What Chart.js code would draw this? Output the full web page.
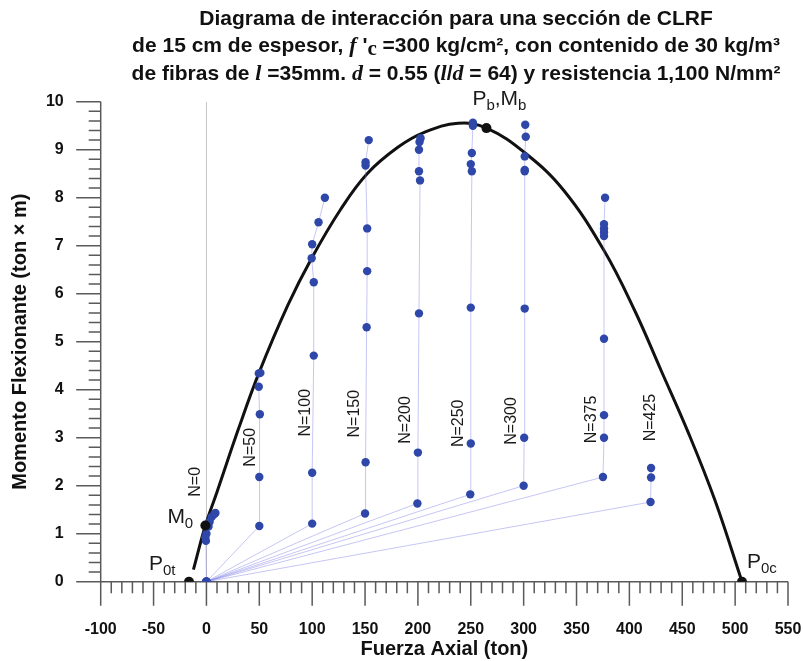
<!DOCTYPE html>
<html>
<head>
<meta charset="utf-8">
<script src="https://cdn.jsdelivr.net/npm/chart.js@4.4.1/dist/chart.umd.min.js"></script>
<style>
  html, body { margin: 0; padding: 0; background: #ffffff; }
  #wrap { width: 803px; height: 661px; }
</style>
</head>
<body>
<div id="wrap"><canvas id="c" width="803" height="661"></canvas></div>
<script>
// Interaction curve (axial force P in ton, bending moment M in ton·m)
const curveP = [-12.3, -1, 10, 30.4, 49.5, 77, 100, 127, 152, 181, 206, 238, 265, 302, 338, 376, 405, 430, 456, 481, 506.5];
const curveM = [0.25, 1.17, 1.87, 3.19, 4.34, 5.76, 6.76, 7.76, 8.50, 9.05, 9.36, 9.55, 9.45, 8.92, 8.15, 6.90, 5.65, 4.40, 3.09, 1.69, 0];

// Characteristic points of the curve
const keyNames = ['P0t', 'M0', 'Pb,Mb', 'P0c'];
const keyP = [-16.5, -1, 264.8, 506.5];
const keyM = [0, 1.17, 9.45, 0];

// Load paths for each axial level N (each starts at the origin)
const levelNames = ['N=0', 'N=50', 'N=100', 'N=150', 'N=200', 'N=250', 'N=300', 'N=375', 'N=425'];
const pN0   = [0, -0.5, -1, 0, 2, 3, 5, 7.5, 8.5];
const mN0   = [0, 0.85, 0.92, 1.0, 1.15, 1.25, 1.35, 1.41, 1.43];
const pN50  = [0, 50, 50, 50.5, 49.5, 49.5, 51];
const mN50  = [0, 1.16, 2.18, 3.49, 4.06, 4.34, 4.35];
const pN100 = [0, 100, 100, 101.5, 101.5, 99.5, 100, 106, 112];
const mN100 = [0, 1.21, 2.27, 4.71, 6.24, 6.74, 7.03, 7.49, 8.0];
const pN150 = [0, 150, 150.5, 151.5, 152, 152, 150.5, 150.5, 153.5];
const mN150 = [0, 1.42, 2.49, 5.30, 6.47, 7.36, 8.67, 8.74, 9.2];
const pN200 = [0, 199.5, 200, 201, 202, 201, 201, 201.5, 202.5];
const mN200 = [0, 1.63, 2.69, 5.59, 8.36, 8.55, 9.0, 9.16, 9.24];
const pN250 = [0, 249.5, 250, 250, 251, 250, 251, 252, 252];
const mN250 = [0, 1.82, 2.88, 5.71, 8.55, 8.70, 8.93, 9.5, 9.56];
const pN300 = [0, 300, 300.5, 301, 301, 301, 301, 302, 301.5];
const mN300 = [0, 2.0, 3.0, 5.69, 8.55, 8.58, 8.86, 9.27, 9.52];
const pN375 = [0, 375, 376, 376, 376, 376, 376, 376, 376, 377];
const mN375 = [0, 2.18, 3.0, 3.47, 5.06, 7.2, 7.28, 7.36, 7.45, 8.0];
const pN425 = [0, 420, 420.5, 420.5];
const mN425 = [0, 1.66, 2.17, 2.37];

// Axis ticks
const xTicks = [-100, -50, 0, 50, 100, 150, 200, 250, 300, 350, 400, 450, 500, 550];
const yTicks = [0, 1, 2, 3, 4, 5, 6, 7, 8, 9, 10];

const levelP = [pN0, pN50, pN100, pN150, pN200, pN250, pN300, pN375, pN425];
const levelM = [mN0, mN50, mN100, mN150, mN200, mN250, mN300, mN375, mN425];

const pts = (xs, ys) => xs.map((v, i) => ({ x: v, y: ys[i] }));

// Where the N labels sit (data coordinates of the text centre)
const levelLabelAt = [
  [-10.5, 2.08], [41.5, 2.8], [93.5, 3.52], [140.5, 3.50], [188.5, 3.37],
  [238, 3.30], [288.5, 3.35], [364.5, 3.38], [420.5, 3.42]
];
// Text offsets (px) of the characteristic point labels from their points
const keyLabelLayout = {
  'P0t':   { dx: -40, dy: -12, parts: [['P', 0], ['0t', 1]] },
  'M0':    { dx: -38, dy: -3,  parts: [['M', 0], ['0', 1]] },
  'Pb,Mb': { dx: -14, dy: -23, parts: [['P', 0], ['b', 1], [',', 0], ['M', 0], ['b', 1]] },
  'P0c':   { dx: 5,   dy: -14, parts: [['P', 0], ['0c', 1]] }
};

const SANS = '"Liberation Sans", Arial, Helvetica, sans-serif';
const SERIF = '"Liberation Serif", "Times New Roman", serif';

// Title with italic symbols
const titleLines = [
  [['Diagrama de interacción para una sección de CLRF', 'b']],
  [['de 15 cm de espesor, ', 'b'], ['f', 'i'], [' \'', 'b'], ['c', 's'], [' =300 kg/cm², con contenido de 30 kg/m³', 'b']],
  [['de fibras de ', 'b'], ['l', 'i'], [' =35mm. ', 'b'], ['d', 'i'], [' = 0.55 (', 'b'], ['l', 'i'], ['/', 'b'], ['d', 'i'], [' = 64) y resistencia 1,100 N/mm²', 'b']]
];

const datasets = [];
// black key points (on top)
datasets.push({
  label: 'key', data: pts(keyP, keyM), showLine: false,
  pointRadius: 5, pointBackgroundColor: '#111', pointBorderColor: '#111', pointBorderWidth: 0,
  order: 0
});
// N paths
levelP.forEach((xs, i) => {
  datasets.push({
    label: levelNames[i], data: pts(xs, levelM[i]), showLine: true,
    borderColor: 'rgba(125,125,230,0.55)', borderWidth: 0.8,
    pointRadius: 4.2, pointBackgroundColor: '#2e47a9', pointBorderWidth: 0,
    tension: 0, order: 1
  });
});
// interaction curve
datasets.push({
  label: 'curve', data: pts(curveP, curveM), showLine: true,
  borderColor: '#111', borderWidth: 3, pointRadius: 0,
  tension: 0.4, order: 2
});
// vertical reference at P = 0
datasets.push({
  label: 'zero', data: pts([0, 0], [0, 10]), showLine: true,
  borderColor: '#c4c4c4', borderWidth: 1, pointRadius: 0, order: 3
});

const axesPlugin = {
  id: 'axesTicks',
  beforeDatasetsDraw(chart) {
    const { ctx, chartArea: a, scales: { x, y } } = chart;
    ctx.save();
    ctx.strokeStyle = '#5a5a5a';
    ctx.lineWidth = 1.5;
    ctx.beginPath();
    ctx.moveTo(a.left, y.getPixelForValue(10)); ctx.lineTo(a.left, a.bottom);
    ctx.moveTo(a.left, a.bottom); ctx.lineTo(x.getPixelForValue(550), a.bottom);
    for (let v = -100; v <= 550; v += 10) {
      const px = x.getPixelForValue(v);
      const len = (v % 50 === 0) ? 24 : 11.5;
      ctx.moveTo(px, a.bottom); ctx.lineTo(px, a.bottom + len);
    }
    for (let i = 0; i <= 50; i++) {
      const py = y.getPixelForValue(i * 0.2);
      const len = (i % 5 === 0) ? 24.5 : 12;
      ctx.moveTo(a.left - len, py); ctx.lineTo(a.left, py);
    }
    ctx.stroke();
    ctx.restore();
  }
};

const textPlugin = {
  id: 'texts',
  afterDatasetsDraw(chart) {
    const { ctx, scales: { x, y } } = chart;
    ctx.save();
    // N labels
    ctx.fillStyle = '#1a1a1a';
    ctx.font = '16px ' + SANS;
    ctx.textAlign = 'center';
    ctx.textBaseline = 'middle';
    levelNames.forEach((t, i) => {
      ctx.save();
      ctx.translate(x.getPixelForValue(levelLabelAt[i][0]), y.getPixelForValue(levelLabelAt[i][1]));
      ctx.rotate(-Math.PI / 2);
      ctx.fillText(t, 0, 0);
      ctx.restore();
    });
    // characteristic point labels
    ctx.textAlign = 'left';
    ctx.textBaseline = 'alphabetic';
    keyNames.forEach((k, i) => {
      const L = keyLabelLayout[k];
      let cx = x.getPixelForValue(keyP[i]) + L.dx;
      const by = y.getPixelForValue(keyM[i]) + L.dy;
      L.parts.forEach(([t, sub]) => {
        ctx.font = (sub ? '15px ' : '21px ') + SANS;
        ctx.fillText(t, cx, by + (sub ? 5 : 0));
        cx += ctx.measureText(t).width;
      });
    });
    ctx.restore();
  },
  afterDraw(chart) {
    const { ctx } = chart;
    ctx.save();
    ctx.fillStyle = '#111';
    ctx.textBaseline = 'alphabetic';
    ctx.textAlign = 'left';
    const fonts = {
      b: 'bold 21px ' + SANS,
      i: 'italic bold 22px ' + SERIF,
      s: 'bold 21px ' + SERIF
    };
    const centre = 456;
    const baselines = [24.5, 52, 79.5];
    titleLines.forEach((segs, li) => {
      let w = 0;
      segs.forEach(([t, f]) => { ctx.font = fonts[f]; w += ctx.measureText(t).width; });
      let cx = centre - w / 2;
      segs.forEach(([t, f]) => {
        ctx.font = fonts[f];
        ctx.fillText(t, cx, baselines[li] + (f === 's' ? 3 : 0));
        cx += ctx.measureText(t).width;
      });
    });
    ctx.restore();
  }
};

new Chart(document.getElementById('c'), {
  type: 'scatter',
  data: { datasets },
  options: {
    responsive: false,
    animation: false,
    devicePixelRatio: 1,
    layout: { padding: { top: 101.7, right: 15, bottom: 0, left: 0 } },
    plugins: { legend: { display: false }, tooltip: { enabled: false }, title: { display: false } },
    scales: {
      x: {
        type: 'linear', min: -100, max: 550,
        afterBuildTicks: (s) => { s.ticks = xTicks.map(v => ({ value: v })); },
        grid: { display: false, drawTicks: true, tickLength: 38 },
        border: { display: false },
        ticks: { padding: 0, color: '#111', font: { family: SANS, size: 16, weight: 'bold' }, maxRotation: 0, autoSkip: false },
        title: { display: true, text: 'Fuerza Axial (ton)', color: '#111', font: { family: SANS, size: 20, weight: 'bold' }, padding: { top: 0, bottom: 0 } },
        afterFit: (s) => { s.height = 661 - 581.7; }
      },
      y: {
        type: 'linear', min: 0, max: 10,
        afterBuildTicks: (s) => { s.ticks = yTicks.map(v => ({ value: v })); },
        grid: { display: false, drawTicks: true, tickLength: 37 },
        border: { display: false },
        ticks: { padding: 0, color: '#111', font: { family: SANS, size: 16, weight: 'bold' } },
        title: { display: true, text: 'Momento Flexionante (ton × m)', color: '#111', font: { family: SANS, size: 20, weight: 'bold' }, padding: { top: 8, bottom: 0 } },
        afterFit: (s) => { s.width = 100.7; }
      }
    }
  },
  plugins: [axesPlugin, textPlugin]
});
</script>
</body>
</html>
